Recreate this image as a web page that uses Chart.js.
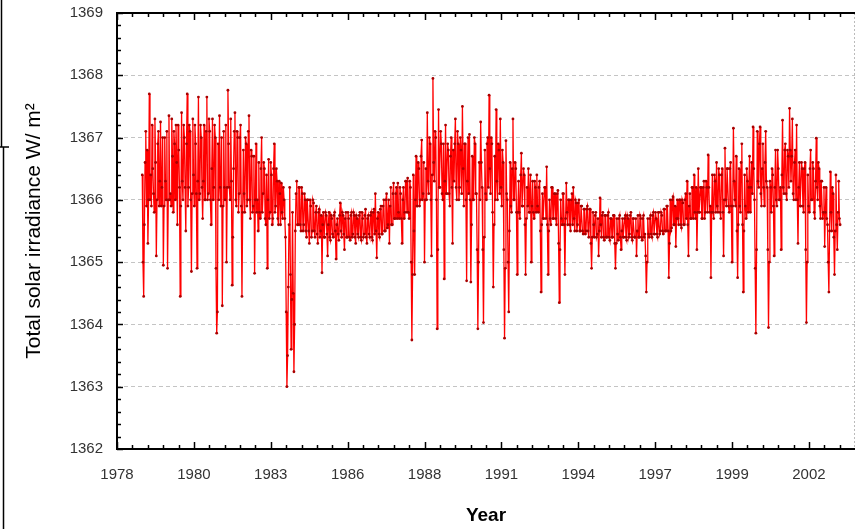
<!DOCTYPE html>
<html>
<head>
<meta charset="utf-8">
<script src="https://cdn.jsdelivr.net/npm/chart.js@4.4.1/dist/chart.umd.min.js"></script>
<style>
  html, body { margin: 0; padding: 0; background: #fff; }
</style>
</head>
<body>
<canvas id="tsiChart" width="859" height="529"></canvas>
<script>
// Total solar irradiance (W/m2).
// Main samples every 0.05 yr from each segment start, in-between samples 0.025 yr later.
const stepYears = 0.05;
const segmentStarts = [1978.9, 1984, 1989, 1994, 1999];

const tsi1978to1983 = [
  1366.4, 1364.45,
  // 1979
  1366.6, 1365.9, 1365.3, 1367.7, 1366.4, 1367.2, 1366.1, 1367.3, 1365.1, 1366.9, 1365.9, 1367.25, 1366.2, 1364.95, 1367.0, 1366.0, 1364.9, 1367.35, 1366.1, 1367.3,
  // 1980
  1365.8, 1366.9, 1367.2, 1365.6, 1366.8, 1364.45, 1367.4, 1366.0, 1367.0, 1365.5, 1367.7, 1366.2, 1367.1, 1364.85, 1367.3, 1365.9, 1366.9, 1364.9, 1367.65, 1366.1,
  // 1981
  1367.0, 1365.7, 1367.2, 1366.0, 1367.65, 1366.1, 1367.1, 1365.6, 1367.3, 1366.2, 1367.0, 1363.86, 1366.9, 1367.35, 1365.9, 1364.3, 1367.1, 1366.0, 1365.0, 1367.76,
  // 1982
  1366.2, 1367.3, 1364.63, 1366.5, 1367.4, 1365.9, 1367.0, 1366.1, 1367.2, 1364.45, 1366.8, 1365.8, 1366.9, 1366.0, 1367.35, 1365.7, 1366.7, 1365.9, 1364.82, 1366.9,
  // 1983
  1366.0, 1366.6, 1365.7, 1367.0, 1366.1, 1366.5, 1365.6, 1364.9, 1366.65, 1365.8, 1366.4, 1365.7, 1366.9, 1365.9, 1366.3, 1365.6, 1366.1, 1366.27, 1365.7, 1366.0
];
const tsiMid1978to1983 = [
  1365.0, 1365.6,
  1367.1, 1366.8, 1366.0, 1366.0, 1365.9, 1366.5, 1365.8, 1366.6, 1366.0, 1367.1, 1366.3, 1365.9, 1367.0, 1365.9, 1366.3, 1367.1, 1366.0, 1366.0, 1365.9, 1366.7,
  1367.1, 1366.0, 1366.6, 1367.2, 1366.2, 1365.9, 1366.3, 1367.2, 1366.2, 1366.9, 1365.9, 1367.2, 1366.0, 1366.1, 1366.4, 1367.2, 1366.1, 1366.3, 1366.0, 1367.2,
  1366.2, 1366.3, 1366.0, 1367.1, 1366.0, 1367.3, 1366.0, 1366.5, 1366.0, 1367.2, 1364.9, 1364.2, 1366.0, 1366.2, 1367.0, 1365.9, 1366.2, 1367.2, 1366.2, 1366.9,
  1366.0, 1366.3, 1365.4, 1367.1, 1366.0, 1367.1, 1365.8, 1367.0, 1365.9, 1365.8, 1366.1, 1367.0, 1365.9, 1367.1, 1366.0, 1366.8, 1365.8, 1366.7, 1366.0, 1365.8,
  1365.5, 1365.8, 1366.5, 1365.8, 1366.6, 1365.7, 1366.4, 1366.0, 1365.7, 1366.6, 1365.6, 1366.5, 1365.8, 1366.5, 1365.7, 1366.3, 1365.6, 1365.8, 1366.2, 1365.7
];

const tsi1984to1988 = [
  1365.4, 1363.0, 1364.6, 1366.2, 1363.6, 1365.8, 1363.24, 1365.5, 1366.3, 1365.6, 1366.2, 1365.5, 1366.1, 1365.6, 1366.0, 1365.4, 1366.0, 1365.3, 1365.9, 1365.5,
  1365.95, 1365.4, 1365.9, 1365.3, 1365.85, 1365.5, 1364.83, 1365.8, 1365.4, 1365.75, 1365.1, 1365.8, 1365.35, 1365.7, 1365.4, 1365.8, 1365.05, 1365.7, 1365.35, 1365.95,
  1365.4, 1365.75, 1365.2, 1365.8, 1365.4, 1365.7, 1365.35, 1365.8, 1365.45, 1365.75, 1365.3, 1365.7, 1365.4, 1365.8, 1365.35, 1365.7, 1365.45, 1365.85, 1365.3, 1365.75,
  1365.4, 1365.8, 1365.35, 1365.85, 1366.1, 1365.07, 1365.8, 1365.4, 1365.9, 1365.45, 1366.0, 1365.5, 1366.1, 1365.6, 1365.3, 1366.2, 1365.6, 1366.27, 1365.7, 1366.2,
  1366.27, 1365.7, 1366.1, 1365.3, 1366.2, 1365.8, 1366.3, 1366.35, 1365.7, 1366.2, 1363.75, 1366.4, 1364.8, 1366.7, 1365.9, 1366.5, 1366.0, 1366.96, 1366.1, 1365.0
];
const tsiMid1984to1988 = [
  1364.2, 1363.5, 1365.6, 1364.8, 1364.4, 1364.5, 1364.0, 1366.1, 1365.6, 1366.2, 1365.6, 1366.2, 1365.5, 1366.1, 1365.5, 1366.0, 1365.5, 1366.0, 1365.4, 1366.0,
  1365.5, 1365.8, 1365.45, 1365.8, 1365.4, 1365.75, 1365.6, 1365.4, 1365.8, 1365.45, 1365.6, 1365.4, 1365.75, 1365.45, 1365.75, 1365.5, 1365.6, 1365.45, 1365.75, 1365.5,
  1365.8, 1365.45, 1365.7, 1365.4, 1365.8, 1365.4, 1365.75, 1365.4, 1365.8, 1365.4, 1365.75, 1365.45, 1365.75, 1365.4, 1365.8, 1365.4, 1365.75, 1365.4, 1365.7, 1365.45,
  1365.75, 1365.4, 1365.8, 1365.45, 1365.5, 1365.7, 1365.45, 1365.85, 1365.45, 1365.9, 1365.5, 1366.0, 1365.55, 1366.0, 1365.9, 1365.6, 1366.1, 1365.7, 1366.1, 1365.7,
  1365.8, 1366.2, 1365.7, 1366.0, 1365.7, 1366.3, 1365.8, 1365.8, 1366.3, 1365.0, 1364.8, 1365.5, 1366.0, 1365.9, 1366.6, 1365.9, 1366.7, 1366.0, 1366.6, 1366.0
];

const tsi1989to1993 = [
  1366.5, 1367.4, 1366.1, 1366.9, 1365.1, 1367.95, 1366.3, 1367.0, 1363.93, 1367.45, 1366.2, 1366.9, 1366.0, 1364.73, 1367.2, 1366.1, 1366.8, 1365.9, 1367.0, 1365.3,
  1366.3, 1367.3, 1366.0, 1366.9, 1366.2, 1366.8, 1367.5, 1365.9, 1366.9, 1364.7, 1367.0, 1367.05, 1364.68, 1366.7, 1366.0, 1366.9, 1366.1, 1363.93, 1366.6, 1367.25,
  1366.2, 1364.03, 1366.8, 1366.0, 1367.0, 1367.68, 1366.1, 1366.9, 1364.6, 1366.7, 1367.45, 1366.0, 1366.8, 1367.3, 1365.9, 1366.6, 1363.78, 1366.95, 1366.0, 1364.2,
  1366.6, 1365.8, 1367.3, 1366.0, 1366.5, 1364.8, 1366.3, 1365.7, 1366.75, 1365.9, 1366.4, 1364.8, 1366.2, 1366.5, 1365.8, 1365.0, 1366.3, 1365.7, 1366.2, 1366.4,
  1365.8, 1366.3, 1364.52, 1366.1, 1365.7, 1366.2, 1366.53, 1364.8, 1366.0, 1365.6, 1366.2, 1365.7, 1366.1, 1365.6, 1366.15, 1364.35, 1366.0, 1365.6, 1366.1, 1364.8
];
const tsiMid1989to1993 = [
  1366.0, 1366.3, 1367.0, 1366.0, 1366.4, 1366.6, 1367.1, 1366.0, 1365.2, 1366.2, 1367.1, 1366.1, 1366.9, 1366.3, 1366.1, 1366.9, 1366.1, 1366.7, 1366.2, 1366.8,
  1366.9, 1366.2, 1367.1, 1366.0, 1367.0, 1366.1, 1366.5, 1366.9, 1366.0, 1366.3, 1366.1, 1366.0, 1365.6, 1366.0, 1367.0, 1366.1, 1365.2, 1365.0, 1366.0, 1366.6,
  1365.2, 1365.4, 1366.1, 1366.9, 1366.2, 1366.5, 1367.0, 1365.8, 1365.6, 1366.0, 1366.3, 1366.9, 1366.1, 1366.2, 1366.8, 1365.2, 1364.9, 1366.1, 1365.0, 1365.5,
  1365.9, 1366.5, 1366.0, 1366.6, 1365.8, 1365.8, 1365.8, 1366.4, 1365.9, 1366.5, 1365.6, 1365.7, 1365.9, 1365.8, 1366.4, 1365.9, 1365.8, 1366.3, 1365.8, 1365.9,
  1366.2, 1365.5, 1365.6, 1365.7, 1366.2, 1365.7, 1365.6, 1365.5, 1365.7, 1366.2, 1365.7, 1366.1, 1365.7, 1366.1, 1365.3, 1365.2, 1365.7, 1366.1, 1365.6, 1365.7
];

const tsi1994to1998 = [
  1366.27, 1365.6, 1366.0, 1365.5, 1366.1, 1366.2, 1365.5, 1365.95, 1365.6, 1366.0, 1365.5, 1365.9, 1365.45, 1365.85, 1365.5, 1365.9, 1365.4, 1365.85, 1364.9, 1365.8,
  1365.4, 1365.8, 1365.45, 1365.1, 1366.03, 1365.4, 1365.8, 1365.35, 1365.75, 1365.4, 1365.8, 1365.35, 1365.7, 1365.4, 1365.75, 1364.9, 1365.7, 1365.35, 1365.75, 1365.2,
  1365.7, 1365.4, 1365.75, 1365.35, 1365.7, 1365.45, 1365.8, 1365.35, 1365.7, 1365.4, 1365.1, 1365.75, 1365.4, 1365.7, 1365.35, 1365.75, 1365.45, 1364.52, 1365.7, 1365.4,
  1365.75, 1365.4, 1365.8, 1365.45, 1365.7, 1365.4, 1365.8, 1365.5, 1365.75, 1365.45, 1365.85, 1365.5, 1365.9, 1364.75, 1366.0, 1365.55, 1366.05, 1365.6, 1365.25, 1366.0,
  1365.6, 1366.0, 1365.55, 1365.95, 1365.6, 1366.1, 1366.3, 1365.1, 1366.1, 1365.7, 1366.2, 1366.4, 1365.7, 1365.2, 1366.5, 1365.8, 1366.2, 1365.7, 1366.3, 1365.8
];
const tsiMid1994to1998 = [
  1365.8, 1366.0, 1365.6, 1366.0, 1365.6, 1365.7, 1366.0, 1365.5, 1365.95, 1365.5, 1365.9, 1365.5, 1365.85, 1365.45, 1365.85, 1365.5, 1365.85, 1365.3, 1365.4, 1365.6,
  1365.75, 1365.4, 1365.7, 1365.5, 1365.6, 1365.75, 1365.4, 1365.75, 1365.4, 1365.75, 1365.4, 1365.7, 1365.4, 1365.75, 1365.3, 1365.3, 1365.45, 1365.7, 1365.4, 1365.5,
  1365.4, 1365.7, 1365.4, 1365.75, 1365.4, 1365.75, 1365.4, 1365.7, 1365.4, 1365.7, 1365.5, 1365.4, 1365.75, 1365.4, 1365.7, 1365.4, 1365.1, 1365.0, 1365.45, 1365.7,
  1365.45, 1365.75, 1365.45, 1365.8, 1365.45, 1365.8, 1365.45, 1365.8, 1365.5, 1365.85, 1365.5, 1365.9, 1365.5, 1365.3, 1365.5, 1366.0, 1365.6, 1365.9, 1365.7, 1365.7,
  1366.0, 1365.6, 1366.0, 1365.6, 1366.0, 1365.7, 1365.6, 1365.9, 1365.7, 1366.2, 1365.7, 1365.8, 1366.2, 1365.8, 1365.8, 1366.2, 1365.7, 1366.2, 1365.7, 1366.3
];

const tsi1999to2003 = [
  1366.2, 1366.72, 1365.8, 1364.75, 1366.4, 1365.7, 1366.3, 1366.6, 1365.8, 1366.4, 1365.7, 1366.5, 1365.1, 1366.83, 1365.9, 1366.5, 1365.8, 1366.6, 1365.0, 1367.15,
  1366.0, 1366.7, 1364.75, 1366.5, 1365.8, 1366.9, 1364.52, 1366.4, 1365.7, 1366.3, 1366.2, 1365.8, 1366.6, 1367.17, 1366.0, 1363.86, 1367.1, 1366.2, 1367.17, 1365.9,
  1366.9, 1365.9, 1367.1, 1366.2, 1363.95, 1366.3, 1365.8, 1366.4, 1365.1, 1366.8, 1365.9, 1366.5, 1366.0, 1365.2, 1367.28, 1366.1, 1366.9, 1366.0, 1366.7, 1367.47,
  1366.3, 1367.3, 1366.0, 1366.8, 1367.2, 1365.3, 1366.6, 1365.9, 1366.5, 1365.8, 1366.6, 1364.03, 1366.4, 1365.8, 1366.8, 1366.0, 1366.5, 1365.7, 1366.99, 1366.0,
  1366.5, 1365.7, 1366.3, 1365.8, 1365.25, 1366.2, 1365.6, 1364.52, 1366.45, 1365.5, 1366.1, 1364.8, 1366.4, 1365.2, 1366.3, 1365.6
];
const tsiMid1999to2003 = [
  1365.8, 1366.2, 1365.9, 1365.8, 1365.8, 1366.4, 1365.8, 1365.9, 1366.5, 1365.8, 1366.4, 1365.8, 1366.0, 1366.0, 1366.5, 1365.9, 1366.5, 1365.9, 1365.9, 1366.3,
  1365.9, 1365.5, 1365.6, 1365.9, 1366.6, 1365.6, 1365.5, 1365.9, 1366.5, 1365.8, 1366.7, 1366.2, 1366.1, 1366.5, 1364.9, 1365.2, 1366.3, 1366.9, 1366.1, 1366.5,
  1366.2, 1366.6, 1366.3, 1365.2, 1365.0, 1366.2, 1366.5, 1365.9, 1366.2, 1366.0, 1366.8, 1366.0, 1366.2, 1366.4, 1366.2, 1366.8, 1366.1, 1366.8, 1366.2, 1366.8,
  1366.7, 1366.1, 1366.6, 1366.0, 1366.0, 1366.2, 1365.9, 1366.6, 1365.9, 1366.5, 1365.2, 1365.0, 1365.9, 1366.5, 1366.0, 1366.6, 1365.8, 1366.3, 1366.2, 1366.6,
  1365.9, 1366.3, 1365.7, 1366.2, 1365.8, 1365.7, 1365.0, 1365.5, 1365.8, 1366.2, 1365.4, 1365.5, 1365.6, 1365.8, 1365.7
];

const mainValues = [tsi1978to1983, tsi1984to1988, tsi1989to1993, tsi1994to1998, tsi1999to2003];
const midValues = [tsiMid1978to1983, tsiMid1984to1988, tsiMid1989to1993, tsiMid1994to1998, tsiMid1999to2003];

// x axis: ticks every 1000 days from 1978, labelled with the year
const xTickLabels = ['1978', '1980', '1983', '1986', '1988', '1991', '1994', '1997', '1999', '2002'];
const tickDays = 1000;
const minorDays = 200;
const xStart = 1978;
const xEnd = 2004.28;

const points = [];
segmentStarts.forEach((start, s) => {
  mainValues[s].forEach((v, i) => {
    points.push({ x: start + i * stepYears, y: v });
    const m = midValues[s][i];
    if (m !== undefined) points.push({ x: start + (i + 0.5) * stepYears, y: m });
  });
});

// frame, inward ticks, and the border lines of the cropped figure on the left
const frameTicks = {
  id: 'frameTicks',
  afterDraw(chart) {
    const { ctx, chartArea: a, scales: { x, y } } = chart;
    const line = (x1, y1, x2, y2) => { ctx.beginPath(); ctx.moveTo(x1, y1); ctx.lineTo(x2, y2); ctx.stroke(); };
    ctx.save();
    ctx.strokeStyle = '#bbbbbb';
    ctx.lineWidth = 1;
    ctx.setLineDash([2, 2]);
    line(a.right - 0.5, a.top, a.right - 0.5, a.bottom);
    ctx.setLineDash([]);

    ctx.strokeStyle = '#000';
    ctx.lineWidth = 2;
    line(a.left, a.top - 1, a.left, a.bottom + 1);
    line(a.left - 1, a.bottom, a.right, a.bottom);
    line(a.left - 1, a.top, a.right, a.top);

    ctx.lineWidth = 1.5;
    for (let k = 0; k <= 35; k++) {
      const v = y.min + k * 0.2;
      const py = Math.round(y.getPixelForValue(v)) + 0.5;
      line(a.left, py, a.left + (k % 5 === 0 ? 6 : 4), py);
    }
    for (let k = 0; ; k++) {
      const v = xStart + k * minorDays / 365.25;
      if (v > x.max) break;
      const px = Math.round(x.getPixelForValue(v)) + 0.5;
      const len = k % 5 === 0 ? 7 : 4;
      line(px, a.bottom, px, a.bottom - len);
      line(px, a.top, px, a.top + len);
    }

    ctx.lineWidth = 1.5;
    line(1.5, 0, 1.5, 147);
    line(0, 147, 9, 147);
    line(3.5, 147, 3.5, 529);
    ctx.restore();
  }
};

new Chart(document.getElementById('tsiChart'), {
  type: 'line',
  data: {
    datasets: [{
      data: points,
      borderColor: '#ff0000',
      borderWidth: 1.3,
      pointRadius: 1.4,
      pointBackgroundColor: '#a80000',
      pointBorderWidth: 0,
      tension: 0
    }]
  },
  options: {
    responsive: false,
    animation: false,
    layout: { padding: { top: 13, right: 2, left: 0, bottom: 0 } },
    plugins: { legend: { display: false }, tooltip: { enabled: false } },
    scales: {
      x: {
        type: 'linear',
        min: xStart,
        max: xEnd,
        afterBuildTicks: scale => {
          scale.ticks = xTickLabels.map((_, k) => ({ value: xStart + k * tickDays / 365.25 }));
        },
        afterFit: scale => { scale.height = 80; },
        grid: { display: false, drawTicks: false },
        border: { display: false },
        ticks: {
          autoSkip: false, maxRotation: 0, padding: 17,
          color: '#333', font: { family: 'Liberation Sans, Arial', size: 15 },
          callback: (v, i) => xTickLabels[i]
        },
        title: {
          display: true, text: 'Year', color: '#000',
          font: { family: 'Liberation Sans, Arial', size: 19, weight: 'bold' },
          padding: { top: 0, bottom: 2 }
        }
      },
      y: {
        min: 1362,
        max: 1369,
        afterFit: scale => {
          scale.width = 117;
          scale.paddingTop = 0;
          scale.paddingBottom = 0;
        },
        grid: {
          drawTicks: false,
          color: c => (c.tick.value === 1362 || c.tick.value === 1369) ? 'rgba(0,0,0,0)' : '#c4c4c4',
          lineWidth: 1
        },
        border: { display: false, dash: [4, 3] },
        ticks: {
          stepSize: 1, padding: 14,
          color: '#333', font: { family: 'Liberation Sans, Arial', size: 15 },
          callback: v => String(v)
        },
        title: {
          display: true, text: 'Total solar irradiance W/ m²', color: '#000',
          font: { family: 'Liberation Sans, Arial', size: 21 },
          padding: { top: 22, bottom: 0 }
        }
      }
    }
  },
  plugins: [frameTicks]
});
</script>
</body>
</html>
